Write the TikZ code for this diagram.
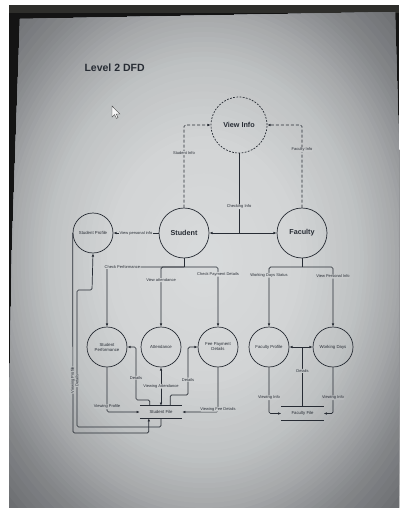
\documentclass[tikz,border=0pt]{standalone}
\usepackage{fontspec}
\setmainfont{Liberation Sans}
\usetikzlibrary{arrows.meta,calc}
\definecolor{ink}{HTML}{272C34}
\definecolor{pgA}{HTML}{D9DBDC}
\definecolor{pgB}{HTML}{D2D4D5}
\definecolor{pgC}{HTML}{BFC2C3}
\definecolor{pgD}{HTML}{A6A8AA}
\definecolor{pgE}{HTML}{85878A}
\definecolor{pgF}{HTML}{626467}
\definecolor{framec}{HTML}{141414}
\definecolor{topband}{HTML}{2E2E2B}
\tikzset{
  proc/.style={circle, draw=ink, line width=0.7pt, inner sep=0pt, align=center,
    text=ink, minimum size=40pt, font=\fontsize{4.3}{5}\selectfont},
  big/.style={font=\bfseries\fontsize{7.2}{8}\selectfont},
  store/.style={inner sep=0pt, text=ink, minimum width=42pt, minimum height=12pt,
    font=\fontsize{4.3}{5}\selectfont},
  line/.style={draw=ink, line width=0.7pt, rounded corners=1.5pt},
  flow/.style={line, ->},
  lbl/.style={fill=pgB, inner sep=0.5pt, text=ink, font=\fontsize{4}{4.5}\selectfont},
  cdash/.style={dash pattern=on 1.8pt off 1.4pt},
  ldash/.style={dash pattern=on 3pt off 2pt}
}
\begin{document}
\begin{tikzpicture}[x=1pt, y=-1pt, >={Latex[length=3.2pt,width=2.6pt]}]
\useasboundingbox (0,0) rectangle (399,508);
% photo background
\fill[white] (0,0) rectangle (399,508);
\fill[framec] (9,5) rectangle (399,508);
\fill[topband] (9,5) rectangle (399,13);
\begin{scope}
\clip (20,19) -- (395,12) -- (399,150) -- (399,508) -- (9,508) -- (9,420) -- (12,250) -- cycle;
\fill[pgF] (0,0) rectangle (399,508);
\foreach \ca/\cb/\ra/\rb in {pgF/pgE/1.5/1.2, pgE/pgD/1.2/1.0, pgD/pgC/1.0/0.8, pgC/pgB/0.8/0.5, pgB/pgA/0.5/0.0} {
  \foreach \i in {0,...,9} {
    \pgfmathsetmacro\rr{\ra-(\ra-\rb)*\i/10}
    \pgfmathtruncatemacro\pp{10*\i}
    \fill[\cb!\pp!\ca] (204,260) ellipse [x radius=\rr*195, y radius=\rr*248];
  }
}
\end{scope}
% cursor
\filldraw[fill=white!92!gray, draw=gray!55!black, line width=0.4pt]
  (112,106) -- (112,117) -- (114.6,114.6) -- (116.4,118.4) -- (118,117.7) -- (116.3,114) -- (119.8,114) -- cycle;
% title
\node[anchor=west, text=ink, font=\bfseries\fontsize{10.5}{12}\selectfont] (title) at (81,68) {Level 2 DFD};
% processes
\node[proc, cdash, minimum size=56pt, big] (vi) at (239,125) {View Info};
\node[proc, minimum size=50pt, big] (st) at (184,233) {Student};
\node[proc, minimum size=50pt, big] (fa) at (302,233) {Faculty};
\node[proc] (sp) at (93,233) {Student Profile};
\node[proc] (spf) at (107,347) {Student\\Performance};
\node[proc] (at) at (161,347) {Attendance};
\node[proc] (fee) at (218,347) {Fee Payment\\Details};
\node[proc] (fp) at (269,347) {Faculty Profile};
\node[proc] (wd) at (333,347) {Working Days};
% data stores
\node[store] (sf) at (161,412) {Student File};
\draw[line] (sf.north west) -- (sf.north east);
\draw[line] (sf.south west) -- (sf.south east);
\node[store, minimum height=13pt] (ff) at (302.5,413.5) {Faculty File};
\draw[line] (ff.north west) -- (ff.north east);
\draw[line] (ff.south west) -- (ff.south east);
% coordinates
\coordinate (j) at (239,233);
\coordinate (sb) at (184,267);
\coordinate (fb) at (302,267);
\coordinate (dl) at (136,400);
\coordinate (dr) at (188,395);
\coordinate (l1) at (73,433);
\coordinate (l2) at (77,427);
\coordinate (l3) at (92,290);
\coordinate (fj) at (302.5,347);
% top flows
\draw[flow, ldash] (st.north) |- node[lbl, pos=0.33]{Student Info} (vi.west);
\draw[flow, ldash] (fa.north) |- node[lbl, fill=pgC!53!pgB, pos=0.35]{Faculty Info} (vi.east);
\draw[line] (vi.south) -- node[lbl, fill=pgB!56!pgA, pos=0.67]{Checking Info} (j);
\draw[flow] (j) -- (st.east);
\draw[flow] (j) -- (fa.west);
\draw[flow] (st.west) -- node[lbl, fill=pgB!70!pgA]{View personal info} (sp.east);
% student branches
\draw[line] (st.south) -- (sb);
\draw[flow] (sb) -| node[lbl, fill=pgB!84!pgA, pos=0.4]{Check Performance} (spf.north);
\draw[flow] (sb) -| node[lbl, fill=pgB!46!pgA, pos=0.61]{View attendance} (at.north);
\draw[flow] (sb) -| node[lbl, fill=pgA, pos=0.56]{Check Payment Details} (fee.north);
% faculty branches
\draw[line] (fa.south) -- (fb);
\draw[flow] (fb) -| node[lbl, fill=pgB!67!pgA, pos=0.57]{Working Days Status} (fp.north);
\draw[flow] (fb) -| node[lbl, fill=pgC!53!pgB, pos=0.58]{View Personal Info} (wd.north);
% student file flows
\draw[flow] (spf.south) |- node[lbl, fill=pgC!93!pgB, pos=0.44]{Viewing Profile} (sf.west);
\draw[flow] ([xshift=10pt]sf.north west) |- (dl) |- node[lbl, fill=pgC!31!pgB, pos=0.21]{Details} (spf.east);
\draw[flow, <->] (at.south) -- node[lbl, fill=pgC!18!pgB, pos=0.49]{Viewing Attendance} (at.south |- sf.north);
\draw[flow] ([xshift=-12pt]sf.north east) |- (dr) |- node[lbl, pos=0.16]{Details} (fee.west);
\draw[flow] (fee.south) |- node[lbl, fill=pgC!35!pgB, pos=0.47]{Viewing Fee Details} (sf.east);
\draw[flow] (sp.west) -- node[lbl, fill=pgD!20!pgC, rotate=90, pos=0.735]{Viewing Profile} (l1) -| ([xshift=9pt]sf.south west);
\draw[flow] (sf.south) |- (l2) |- node[lbl, fill=pgD!6!pgC, rotate=90, pos=0.17]{Details} (l3) -- (sp.south);
% faculty file flows
\draw[flow] (fp.south) |- node[lbl, fill=pgC!49!pgB, pos=0.33]{Viewing Info} (ff.west);
\draw[flow] (wd.south) |- node[lbl, fill=pgD!33!pgC, pos=0.33]{Viewing Info} (ff.east);
\draw[line] (ff.north) -- node[lbl, fill=pgC!57!pgB, pos=0.6]{Details} (fj);
\draw[flow] (fj) -- (fp.east);
\draw[flow] (fj) -- (wd.west);
\end{tikzpicture}
\end{document}
